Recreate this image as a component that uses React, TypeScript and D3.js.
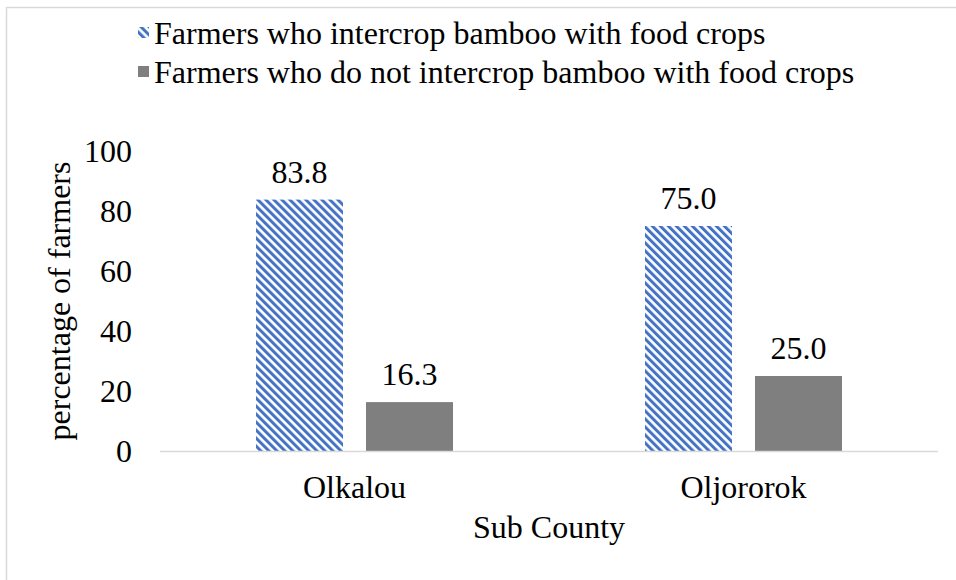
import React from "react";
import * as d3 from "d3";

const categories = ["Olkalou", "Oljororok"];
const seriesNames = [
  "Farmers who intercrop bamboo with food crops",
  "Farmers who do not intercrop bamboo with food crops",
];
const intercropValues = [83.8, 75.0];
const notIntercropValues = [16.3, 25.0];
const yTicks = [0, 20, 40, 60, 80, 100];

const W = 956;
const H = 580;
const FONT = "'Liberation Serif', 'Times New Roman', serif";
const FS = 32;

export default function App() {
  const plotLeft = 160;
  const plotRight = 938;
  const plotTop = 151;
  const plotBottom = 451;

  const x0 = d3.scaleBand<string>().domain(categories).range([plotLeft, plotRight]).paddingInner(0).paddingOuter(0);
  const y = d3.scaleLinear().domain([0, 100]).range([plotBottom, plotTop]);

  const barW = 87;
  const gap = 23;
  const series = [intercropValues, notIntercropValues];
  const fills = ["url(#diag)", "#7f7f7f"];

  const bars: React.ReactNode[] = [];
  const labels: React.ReactNode[] = [];
  categories.forEach((c, ci) => {
    const center = (x0(c) as number) + x0.bandwidth() / 2;
    const groupW = barW * 2 + gap;
    series.forEach((vals, si) => {
      const bx = center - groupW / 2 + si * (barW + gap);
      const v = vals[ci];
      bars.push(
        <rect key={`b${ci}${si}`} x={bx} y={y(v)} width={barW} height={plotBottom - y(v)} fill={fills[si]} />
      );
      labels.push(
        <text key={`l${ci}${si}`} x={bx + barW / 2} y={y(v) - 17} textAnchor="middle" fontSize={FS} fill="#000">
          {d3.format(".1f")(v)}
        </text>
      );
    });
  });

  return (
    <svg width={W} height={H} style={{ position: "absolute", left: 0, top: 0 }} fontFamily={FONT}>
      <defs>
        <pattern id="diag" patternUnits="userSpaceOnUse" width={5.66} height={5.66} patternTransform="rotate(-45)">
          <rect x={0} y={0} width={5.66} height={5.66} fill="#fff" />
          <rect x={0} y={0} width={3} height={5.66} fill="#4472c4" />
        </pattern>
      </defs>
      <rect x={0} y={0} width={W} height={H} fill="#fff" />
      <rect x={6.5} y={7.5} width={1200} height={1200} fill="none" stroke="#d9d9d9" strokeWidth={1.5} />

      {/* legend */}
      {seriesNames.map((s, i) => (
        <g key={s}>
          <rect x={138} y={27 + i * 39} width={11} height={11} fill={fills[i]} />
          <text x={154} y={44 + i * 39} fontSize={FS} fill="#000">{s}</text>
        </g>
      ))}

      {/* y ticks */}
      {yTicks.map((t) => (
        <text key={t} x={132} y={y(t) + 11} textAnchor="end" fontSize={FS} fill="#000">{t}</text>
      ))}

      {bars}
      <line x1={plotLeft} x2={plotRight} y1={plotBottom + 0.5} y2={plotBottom + 0.5} stroke="#d9d9d9" strokeWidth={1.5} />
      {labels}

      {categories.map((c) => (
        <text key={c} x={(x0(c) as number) + x0.bandwidth() / 2} y={498} textAnchor="middle" fontSize={FS} fill="#000">{c}</text>
      ))}
      <text x={(plotLeft + plotRight) / 2} y={538} textAnchor="middle" fontSize={FS} fill="#000">Sub County</text>
      <text transform={`translate(70, ${(plotTop + plotBottom) / 2}) rotate(-90)`} textAnchor="middle" fontSize={FS} fill="#000">
        percentage of farmers
      </text>
    </svg>
  );
}
